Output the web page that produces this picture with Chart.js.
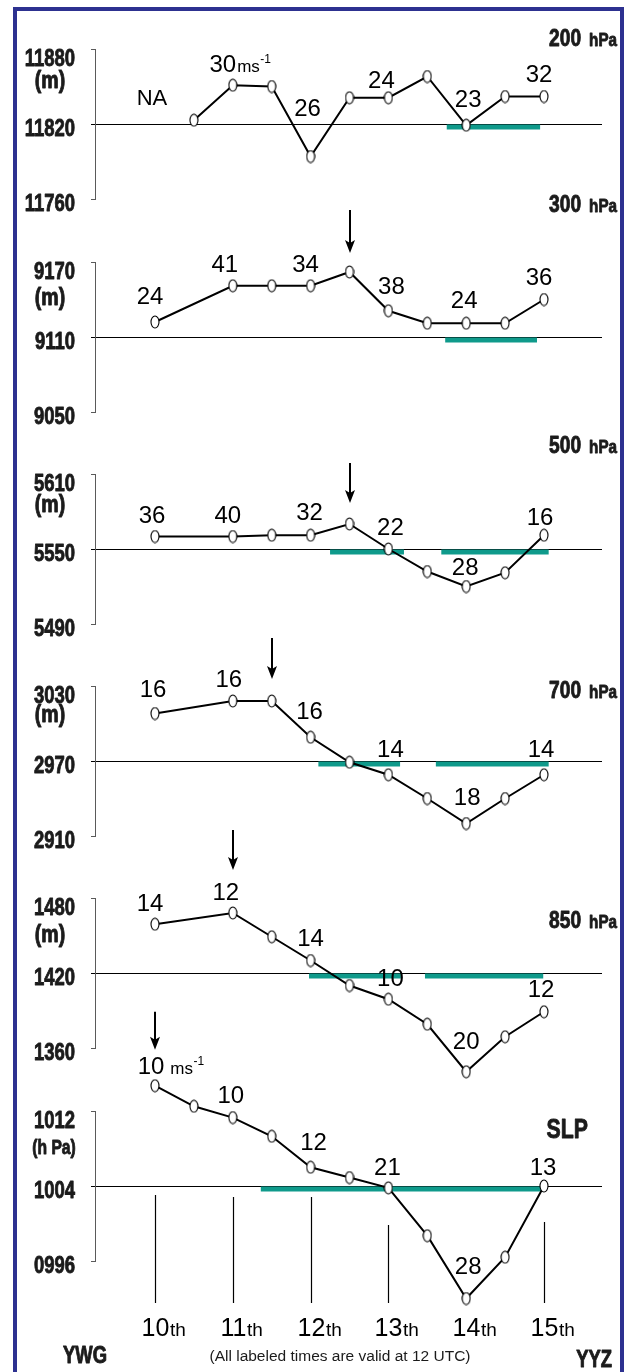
<!DOCTYPE html>
<html>
<head>
<meta charset="utf-8">
<title>Height and pressure time series, YWG to YYZ</title>
<script src="https://cdn.jsdelivr.net/npm/chart.js@4/dist/chart.umd.min.js"></script>
<style>
  html, body { margin: 0; padding: 0; background: #fff; }
  #page { position: relative; width: 627px; height: 1372px; overflow: hidden; background: #fff; }
  #frame { position: absolute; left: 13px; top: 7px; width: 603px; height: 1420px;
           border: 4px solid #2d3190; border-bottom: none; }
  #page canvas { position: absolute; left: 0; top: 0; }
</style>
</head>
<body>
<div id="page"><div id="frame"></div></div>
<script>
// ---- time axis (days of the month, 12-hourly) ----
const DAYS = [10, 10.5, 11, 11.5, 12, 12.5, 13, 13.5, 14, 14.5, 15];
const DAY_TICKS = [10, 11, 12, 13, 14, 15];
const DAY_SUFFIX = 'th';

// ---- geopotential height (m) and sea-level pressure (hPa) ----
const z200 = [null, 11823, 11851, 11850, 11794, 11841, 11841, 11858, 11819, 11842, 11842];
const z300 = [9122, null, 9151, 9151, 9151, 9162, 9131, 9121, 9121, 9121, 9140];
const z500 = [5560, null, 5560, 5561, 5561, 5570, 5550, 5532, 5520, 5531, 5561];
const z700 = [3008, null, 3018, 3018, 2989, 2969, 2959, 2940, 2920, 2940, 2959];
const z850 = [1459, null, 1468, 1449, 1430, 1410, 1399, 1379, 1341, 1369, 1389];
const slp  = [1014.7, 1012.5, 1011.3, 1009.3, 1006.0, 1004.9, 1003.8, 998.7, 992.0, 996.4, 1004.0];

// ---- wind speed (m s-1) noted at 12 UTC ----
const wind200 = ['NA', null, 30, null, 26, null, 24, null, 23, null, 32];
const wind300 = [24, null, 41, null, 34, null, 38, null, 24, null, 36];
const wind500 = [36, null, 40, null, 32, null, 22, null, 28, null, 16];
const wind700 = [16, null, 16, null, 16, null, 14, null, 18, null, 14];
const wind850 = [14, null, 12, null, 14, null, 10, null, 20, null, 12];
const windSLP = [10, null, 10, null, 12, null, 21, null, 28, null, 13];

// ---- y-axis ticks (low, reference, high) ----
const yTicks200 = [11760, 11820, 11880];
const yTicks300 = [9050, 9110, 9170];
const yTicks500 = [5490, 5550, 5610];
const yTicks700 = [2910, 2970, 3030];
const yTicks850 = [1360, 1420, 1480];
const yTicksSLP = [996, 1004, 1012];

// ---- highlighted periods (start day, end day) ----
const band200 = [[13.75, 14.95]];
const band300 = [[13.73, 14.91]];
const band500 = [[12.25, 13.2], [13.68, 15.06]];
const band700 = [[12.1, 13.15], [13.61, 15.06]];
const band850 = [[11.98, 13.16], [13.47, 14.99]];
const bandSLP = [[11.36, 15.0]];

// ---- arrow markers (day) ----
const arrow300 = 12.5;
const arrow500 = 12.5;
const arrow700 = 11.5;
const arrow850 = 11;
const arrowSLP = 10;

// ---- panels ----
const panels = [
  { level: '200', unit: 'hPa', z: z200, wind: wind200, ticks: yTicks200, bands: band200, arrowAt: null,     yUnit: '(m)' },
  { level: '300', unit: 'hPa', z: z300, wind: wind300, ticks: yTicks300, bands: band300, arrowAt: arrow300, yUnit: '(m)' },
  { level: '500', unit: 'hPa', z: z500, wind: wind500, ticks: yTicks500, bands: band500, arrowAt: arrow500, yUnit: '(m)' },
  { level: '700', unit: 'hPa', z: z700, wind: wind700, ticks: yTicks700, bands: band700, arrowAt: arrow700, yUnit: '(m)' },
  { level: '850', unit: 'hPa', z: z850, wind: wind850, ticks: yTicks850, bands: band850, arrowAt: arrow850, yUnit: '(m)' },
  { level: 'SLP', unit: '',    z: slp,  wind: windSLP, ticks: yTicksSLP, bands: bandSLP, arrowAt: arrowSLP, yUnit: '(h Pa)' }
];

// ---- look and placement ----
const W = 627, H = 1372;
const PLOT_L = 95, PLOT_R = 602;          // plot area edges
const X10 = 155, X15 = 544;               // where day 10 and day 15 fall
const STEP_PX = 75;                       // pixels per tick step
const INK = '#1b1b1b';
const AXIS_GREY = '#5a5a5a';
const TEAL = '#0f9a8b';
const SANS = '"Liberation Sans", Arial, Helvetica, sans-serif';
const CONDENSE = 0.77;                    // horizontal squeeze for the bold condensed lettering
const TICK_SHIFT = [3, 3, 8];             // label drop below low / reference / high tick

const looks = [
  { refY: 124,  titleDy: -78,  unitDy: 39, msAt: 2, msGap: 1,
    nudge: [[-3, -28], [-10, -21.5], [-3, -49], [-7, -18], [2, -27], [-5, -23]] },
  { refY: 337,  titleDy: -125, unitDy: 43, arrowGap: 19, arrowLen: 43,
    nudge: [[-5, -27], [-8, -22], [-5, -22], [3, -25], [-2, -24], [-5, -23]] },
  { refY: 549,  titleDy: -96,  unitDy: 38, arrowGap: 21, arrowLen: 40,
    nudge: [[-3, -22], [-5, -22], [-1, -24], [2, -23], [-1, -20], [-4, -19]] },
  { refY: 761,  titleDy: -63,  unitDy: 36, arrowGap: 22, arrowLen: 41,
    nudge: [[-2, -25], [-4, -23], [-1, -27], [2, -26], [1, -27], [-3, -26]] },
  { refY: 973,  titleDy: -45,  unitDy: 44, arrowGap: 43, arrowLen: 40,
    nudge: [[-5, -22], [-7, -22], [0, -23], [2, -22], [0, -31], [-3, -23]] },
  { refY: 1186, titleDy: -48,  unitDy: 43, arrowGap: 36, arrowLen: 38, msAt: 0, msGap: 6,
    nudge: [[-4, -20], [-2, -23], [3, -26], [-1, -21], [2, -33], [-1, -20]],
    dayLineTop: [9, 11, 11, 39, null, 36], dayLineBottom: 117, dayLabelDy: 150 }
];

const pxPerDay = (X15 - X10) / 5;
const X_MIN = 10 - (X10 - PLOT_L) / pxPerDay;
const X_MAX = 15 + (PLOT_R - X15) / pxPerDay;

// open ellipse marker
function makeMarker() {
  const c = document.createElement('canvas');
  c.width = 10; c.height = 14;
  const g = c.getContext('2d');
  g.beginPath();
  g.ellipse(5, 7, 4, 6, 0, 0, Math.PI * 2);
  g.fillStyle = '#fff';
  g.fill();
  g.lineWidth = 1.1;
  g.strokeStyle = '#000';
  g.stroke();
  return c;
}
const MARKER = makeMarker();

// heavy lettering squeezed horizontally; returns drawn width
function condensedText(ctx, txt, x, base, size, align, squeeze) {
  const sx = squeeze || CONDENSE;
  ctx.save();
  ctx.font = `bold ${size}px ${SANS}`;
  ctx.textAlign = 'left';
  ctx.textBaseline = 'alphabetic';
  const w = ctx.measureText(txt).width * sx;
  const left = align === 'right' ? x - w : align === 'center' ? x - w / 2 : x;
  ctx.translate(left, base);
  ctx.scale(sx, 1);
  ctx.fillText(txt, 0, 0);
  ctx.strokeStyle = ctx.fillStyle;
  ctx.lineWidth = 0.9;
  ctx.lineJoin = 'round';
  ctx.strokeText(txt, 0, 0);
  ctx.restore();
  return w;
}

function decor(panel, look, isLast, fmt) {
  return {
    id: 'decor',
    beforeDatasetsDraw(chart) {
      const { ctx, chartArea } = chart;
      const xs = chart.scales.x, ys = chart.scales.y;
      const [lo, ref, hi] = panel.ticks;
      ctx.save();
      // axis spine between the outer ticks
      ctx.strokeStyle = AXIS_GREY;
      ctx.lineWidth = 1;
      const ax = Math.round(chartArea.left) + 0.5;
      ctx.beginPath();
      ctx.moveTo(ax, Math.round(ys.getPixelForValue(hi)));
      ctx.lineTo(ax, Math.round(ys.getPixelForValue(lo)) + 1);
      ctx.stroke();
      // teal periods hanging under the reference line
      const yr = ys.getPixelForValue(ref);
      ctx.fillStyle = TEAL;
      panel.bands.forEach(([a, b]) => {
        const x1 = xs.getPixelForValue(a);
        ctx.fillRect(x1, Math.round(yr) + 0.5, xs.getPixelForValue(b) - x1, 5);
      });
      // tick labels at the scale's ticks
      ctx.fillStyle = INK;
      ys.ticks.forEach((t, j) => {
        const py = ys.getPixelForValue(t.value) + TICK_SHIFT[j] + 8.6;
        condensedText(ctx, fmt(t.value), chartArea.left - 20, py, 24, 'right');
      });
      ctx.restore();
    },
    afterDatasetsDraw(chart) {
      const { ctx } = chart;
      const xs = chart.scales.x, ys = chart.scales.y;
      const [lo, ref, hi] = panel.ticks;
      const yr = ys.getPixelForValue(ref);
      ctx.save();
      ctx.fillStyle = INK;
      ctx.strokeStyle = '#000';
      ctx.textBaseline = 'alphabetic';

      // panel title
      const tb = yr + look.titleDy;
      if (panel.unit) {
        const wu = condensedText(ctx, panel.unit, 617, tb, 19, 'right', 0.8);
        condensedText(ctx, panel.level, 617 - wu - 8, tb, 24, 'right', 0.8);
      } else {
        condensedText(ctx, panel.level, 588, tb, 28, 'right', 0.76);
      }

      // unit under the top tick label
      const ub = ys.getPixelForValue(hi) + look.unitDy;
      if (panel.yUnit.length > 3) condensedText(ctx, panel.yUnit, 54, ub, 20, 'center', 0.78);
      else condensedText(ctx, panel.yUnit, 50, ub, 23, 'center', 0.85);

      // wind speed notes
      let k = 0;
      DAYS.forEach((d, i) => {
        const w = panel.wind[i];
        if (w == null) return;
        const [dx, dy] = look.nudge[k++];
        const v = panel.z[i] == null ? ref : panel.z[i];
        const cx = xs.getPixelForValue(d) + dx;
        const base = ys.getPixelForValue(v) + dy + 8.6;
        const txt = String(w);
        ctx.fillStyle = '#000';
        ctx.textAlign = 'center';
        ctx.font = typeof w === 'number' ? `24px ${SANS}` : `22px ${SANS}`;
        ctx.fillText(txt, cx, base);
        if (look.msAt === i) {
          const tw = ctx.measureText(txt).width;
          let ux = cx + tw / 2 + look.msGap;
          ctx.textAlign = 'left';
          ctx.font = `17px ${SANS}`;
          ctx.fillText('ms', ux, base);
          ux += ctx.measureText('ms').width + 0.5;
          ctx.font = `12px ${SANS}`;
          ctx.fillText('-1', ux, base - 9);
        }
      });

      // arrow pointing at a turning point
      if (panel.arrowAt != null) {
        const i = DAYS.indexOf(panel.arrowAt);
        const axp = Math.round(xs.getPixelForValue(panel.arrowAt));
        const tip = ys.getPixelForValue(panel.z[i]) - look.arrowGap;
        ctx.lineWidth = 2;
        ctx.beginPath();
        ctx.moveTo(axp, tip - look.arrowLen);
        ctx.lineTo(axp, tip - 8);
        ctx.stroke();
        ctx.fillStyle = '#000';
        ctx.beginPath();
        ctx.moveTo(axp, tip);
        ctx.lineTo(axp - 5, tip - 13);
        ctx.lineTo(axp, tip - 10);
        ctx.lineTo(axp + 5, tip - 13);
        ctx.closePath();
        ctx.fill();
      }

      if (isLast) {
        // day markers and labels
        ctx.lineWidth = 1.2;
        ctx.fillStyle = '#000';
        DAY_TICKS.forEach((d, j) => {
          const dxp = Math.round(xs.getPixelForValue(d)) + 0.5;
          const top = look.dayLineTop[j];
          if (top != null) {
            ctx.beginPath();
            ctx.moveTo(dxp, yr + top);
            ctx.lineTo(dxp, yr + look.dayLineBottom);
            ctx.stroke();
          }
          const base = yr + look.dayLabelDy;
          const num = String(d);
          ctx.textAlign = 'center';
          ctx.font = `25px ${SANS}`;
          ctx.fillText(num, dxp, base);
          const nw = ctx.measureText(num).width;
          ctx.textAlign = 'left';
          ctx.font = `19px ${SANS}`;
          ctx.fillText(DAY_SUFFIX, dxp + nw / 2 + 0.5, base);
        });
        // stations and note
        ctx.fillStyle = INK;
        condensedText(ctx, 'YWG', 63, 1363, 23, 'left', 0.8);
        condensedText(ctx, 'YYZ', 612, 1367, 23, 'right', 0.8);
        ctx.textAlign = 'center';
        ctx.font = `15.5px ${SANS}`;
        ctx.fillText('(All labeled times are valid at 12 UTC)', 340, 1361);
      }
      ctx.restore();
    }
  };
}

function buildPanel(panel, look, isLast) {
  const canvas = document.createElement('canvas');
  canvas.width = W; canvas.height = H;
  document.getElementById('page').appendChild(canvas);

  const [lo, ref, hi] = panel.ticks;
  const step = ref - lo;
  const ppu = STEP_PX / step;
  const yMax = ref + 1.5 * step;
  const yMin = ref - 2 * step;
  const areaTop = look.refY - (yMax - ref) * ppu;
  const areaBottom = look.refY + (ref - yMin) * ppu;
  const isRef = (c) => c.tick && Math.abs(c.tick.value - ref) < 1e-6;
  const fmt = (v) => (panel.level === 'SLP' ? String(v).padStart(4, '0') : String(v));

  return new Chart(canvas, {
    type: 'line',
    data: {
      datasets: [{
        data: DAYS.map((d, i) => ({ x: d, y: panel.z[i] })),
        borderColor: '#000',
        borderWidth: 2,
        tension: 0,
        spanGaps: true,
        pointStyle: MARKER,
        pointRadius: 5,
        fill: false
      }]
    },
    options: {
      responsive: false,
      animation: false,
      events: [],
      layout: { padding: { top: areaTop, bottom: H - areaBottom, left: 0, right: W - PLOT_R } },
      plugins: { legend: { display: false }, tooltip: { enabled: false } },
      scales: {
        x: { type: 'linear', display: false, min: X_MIN, max: X_MAX },
        y: {
          type: 'linear',
          min: yMin,
          max: yMax,
          afterFit(s) { s.width = PLOT_L; },
          afterBuildTicks(s) { s.ticks = panel.ticks.map(v => ({ value: v })); },
          ticks: { display: false, autoSkip: false, callback: (v) => fmt(v) },
          grid: {
            drawTicks: true,
            tickLength: 4,
            lineWidth: 1,
            color: (c) => (isRef(c) ? '#000' : 'rgba(0,0,0,0)'),
            tickColor: (c) => (isRef(c) ? '#000' : AXIS_GREY)
          },
          border: { display: false }
        }
      }
    },
    plugins: [decor(panel, look, isLast, fmt)]
  });
}

panels.forEach((p, i) => buildPanel(p, looks[i], i === panels.length - 1));
</script>
</body>
</html>
